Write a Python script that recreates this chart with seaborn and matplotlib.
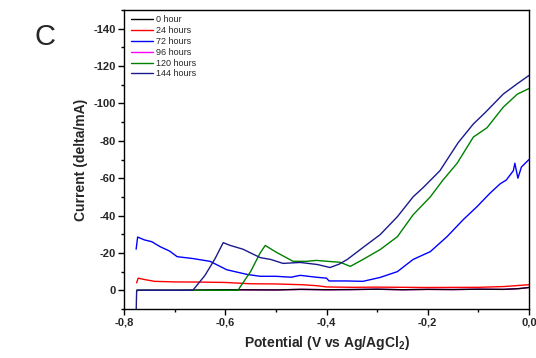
import numpy as np
import pandas as pd
import matplotlib
matplotlib.use("Agg")
import matplotlib.pyplot as plt
import seaborn as sns

# Potential (V) and current (delta/mA) for each incubation time
v_0h = [-0.775, -0.70, -0.60, -0.50, -0.45, -0.40, -0.35, -0.30, -0.25, -0.20, -0.15, -0.10, -0.05, -0.02, 0.0]
i_0h = [0.0, 0.0, -0.3, -0.2, -0.5, -0.3, -0.4, -0.6, -0.3, -0.5, -0.4, -0.6, -0.5, -0.9, -1.5]

v_24h = [-0.775, -0.772, -0.76, -0.74, -0.70, -0.65, -0.60, -0.55, -0.50, -0.45, -0.42, -0.40,
         -0.35, -0.30, -0.20, -0.10, -0.05, -0.01, 0.0]
i_24h = [-4.0, -6.5, -5.8, -4.8, -4.5, -4.4, -4.2, -3.5, -3.4, -3.0, -2.5, -1.8,
         -1.6, -1.7, -1.5, -1.6, -2.0, -2.8, -3.0]

v_72h = [-0.776, -0.773, -0.76, -0.745, -0.729, -0.71, -0.695, -0.664, -0.63, -0.597, -0.557,
         -0.531, -0.50, -0.47, -0.452, -0.42, -0.40, -0.395, -0.36, -0.328, -0.294, -0.26,
         -0.229, -0.195, -0.162, -0.13, -0.103, -0.077, -0.057, -0.045, -0.031, -0.028,
         -0.022, -0.015, 0.0]
i_72h = [-22.0, -28.5, -27.0, -26.0, -23.4, -21.0, -18.0, -17.0, -15.5, -11.0, -8.5,
         -7.5, -7.5, -7.0, -8.0, -7.0, -6.5, -5.0, -5.0, -4.8, -6.9, -10.0,
         -16.5, -20.7, -28.7, -37.8, -44.7, -52.0, -57.0, -59.0, -64.0, -68.0,
         -60.0, -66.0, -70.0]

v_96h = v_0h
i_96h = i_0h

v_120h = [-0.775, -0.70, -0.60, -0.575, -0.55, -0.531, -0.521, -0.50, -0.466, -0.44, -0.42,
          -0.393, -0.373, -0.353, -0.328, -0.294, -0.26, -0.229, -0.195, -0.17, -0.142,
          -0.11, -0.083, -0.051, -0.023, 0.0]
i_120h = [0.0, 0.0, 0.0, 0.0, -10.0, -20.0, -24.0, -20.5, -15.5, -15.5, -16.0,
          -15.4, -15.0, -12.8, -16.5, -21.8, -28.7, -40.4, -50.0, -59.0, -68.0,
          -82.0, -87.0, -98.0, -105.0, -108.0]

v_144h = [-0.776, -0.775, -0.772, -0.70, -0.664, -0.64, -0.62, -0.604, -0.59, -0.565, -0.531,
          -0.51, -0.486, -0.452, -0.418, -0.393, -0.375, -0.359, -0.328, -0.294, -0.26,
          -0.229, -0.209, -0.176, -0.14, -0.11, -0.087, -0.051, -0.023, 0.0]
i_144h = [12.0, 0.5, 0.0, 0.0, 0.0, -8.0, -17.0, -25.5, -24.0, -22.0, -17.5,
          -16.5, -14.4, -14.9, -13.8, -12.2, -14.0, -16.5, -22.9, -29.8, -39.4,
          -50.0, -55.0, -64.0, -79.0, -89.0, -95.0, -105.0, -110.6, -115.0]

series_names = ["0 hour", "24 hours", "72 hours", "96 hours", "120 hours", "144 hours"]
series_v = [v_0h, v_24h, v_72h, v_96h, v_120h, v_144h]
series_i = [i_0h, i_24h, i_72h, i_96h, i_120h, i_144h]
series_colors = ["#000000", "#ff0000", "#0000ff", "#ff00ff", "#008000", "#1a1a8c"]

x_ticks = [-0.8, -0.6, -0.4, -0.2, 0.0]
x_tick_labels = ["-0,8", "-0,6", "-0,4", "-0,2", "0,0"]
y_ticks = [0, -20, -40, -60, -80, -100, -120, -140]
y_tick_labels = ["0", "-20", "-40", "-60", "-80", "-100", "-120", "-140"]

frames = []
for name, v, i in zip(series_names, series_v, series_i):
    frames.append(pd.DataFrame({"potential": v, "current": i, "series": name}))
df = pd.concat(frames, ignore_index=True)

sns.set_style("ticks")
plt.rcParams["font.family"] = ["Liberation Sans", "DejaVu Sans"]

fig = plt.figure(figsize=(5.36, 3.58), dpi=100)
ax = fig.add_axes([0.2313, 0.1369, 0.987 - 0.2313, 0.972 - 0.1369])

# draw 96 h first so the 0 h trace sits on top
order = ["96 hours", "0 hour", "24 hours", "72 hours", "120 hours", "144 hours"]
palette = dict(zip(series_names, series_colors))
for name in order:
    sub = df[df["series"] == name]
    sns.lineplot(data=sub, x="potential", y="current", color=palette[name],
                 sort=False, estimator=None, linewidth=1.0, ax=ax, label=name)

ax.set_xlim(-0.8, 0.0)
ax.set_ylim(10, -150)

ax.set_xticks(x_ticks, labels=x_tick_labels)
ax.set_xticks([-0.7, -0.5, -0.3, -0.1], minor=True)
ax.set_yticks(y_ticks, labels=y_tick_labels)
ax.set_yticks([-150, -130, -110, -90, -70, -50, -30, -10, 10], minor=True)

for lbl in ax.get_xticklabels() + ax.get_yticklabels():
    lbl.set_fontweight("bold")
    lbl.set_fontsize(8)
ax.tick_params(axis="both", which="major", direction="out", length=4, width=1,
               pad=2, color="black")
ax.tick_params(axis="both", which="minor", direction="out", length=2.5, width=1,
               color="black")
for sp in ax.spines.values():
    sp.set_visible(True)
    sp.set_linewidth(1.0)
    sp.set_color("black")

ax.set_xlabel("Potential (V vs Ag/AgCl$_\\mathregular{2}$)", fontsize=10, fontweight="bold", labelpad=5)
ax.set_ylabel("Current (delta/mA)", fontsize=10, fontweight="bold", labelpad=4)

# legend in the original series order
handles, labels = ax.get_legend_handles_labels()
lookup = dict(zip(labels, handles))
ax.legend([lookup[n] for n in series_names], series_names, loc="upper left",
          frameon=False, fontsize=6.5, handlelength=2.4, handletextpad=0.3,
          labelspacing=0.2, borderaxespad=0.2, bbox_to_anchor=(0.005, 1.0))

fig.text(35 / 536, 1 - 37 / 358, "C", fontsize=21, ha="left", va="center")

fig.savefig("out.png", dpi=100)
